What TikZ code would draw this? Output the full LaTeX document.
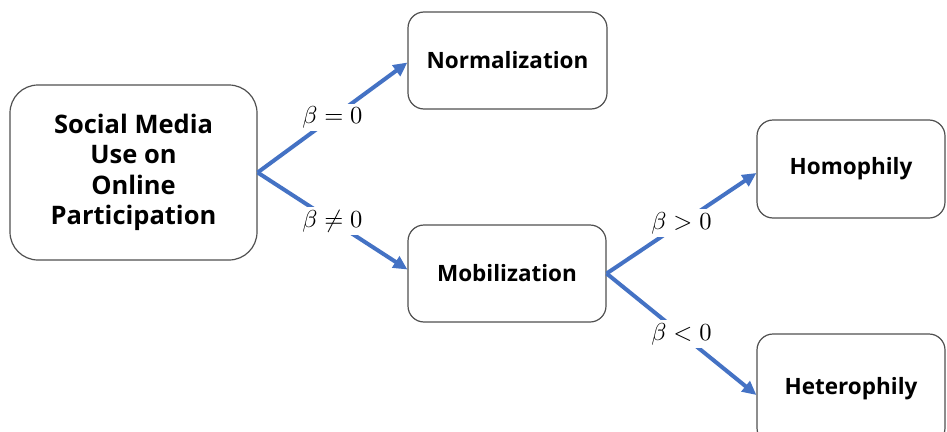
\documentclass[tikz,border=0pt]{standalone}
\usepackage{graphicx}
\usepackage{fontspec}
\setmainfont{Open Sans}
\usetikzlibrary{arrows.meta}
\definecolor{arrowblue}{HTML}{4472C4}
\definecolor{boxgray}{HTML}{505050}
\newcommand{\condtext}[1]{\scalebox{2.45}{$#1$}}
\tikzset{
  box/.style={draw=boxgray, line width=1.2pt, rounded corners=16pt, fill=white,
    font=\bfseries\fontsize{22.5}{30}\selectfont, align=center, inner sep=0pt},
  flow/.style={draw=arrowblue, line width=4pt, -{Triangle[length=14pt,width=13pt]}},
  cond/.style={fill=white, inner sep=3pt, font=\normalsize}
}
\begin{document}
\begin{tikzpicture}[x=1pt,y=-1pt]
  \useasboundingbox (0,0) rectangle (947,431);
  % boxes
  \node[box, rounded corners=28pt, font=\bfseries\fontsize{25.5}{30.5}\selectfont,
        minimum width=247pt, minimum height=175pt] (src) at (133.5,172.5)
    {Social Media\\Use on\\Online\\Participation};
  \node[box, minimum width=199pt, minimum height=97pt] (norm) at (507.5,60.5) {Normalization};
  \node[box, minimum width=198pt, minimum height=97pt] (mob) at (507,273.5) {Mobilization};
  \node[box, minimum width=188pt, minimum height=98pt] (homo) at (851,169) {Homophily};
  \node[box, minimum width=188pt, minimum height=110pt] (hetero) at (851,389) {Heterophily};
  % connectors from the source
  \draw[flow] (src.east) -- ([yshift=-2pt]norm.west) node[cond, pos=0.5] {\condtext{\beta = 0}};
  \draw[flow] (src.east) -- ([yshift=4pt]mob.west) node[cond, pos=0.5] {\condtext{\beta \neq 0}};
  % connectors from mobilization
  \draw[flow] (mob.east) -- ([yshift=-4pt]homo.west) node[cond, pos=0.5] {\condtext{\beta > 0}};
  \draw[flow] (mob.east) -- ([yshift=-6pt]hetero.west) node[cond, pos=0.5] {\condtext{\beta < 0}};
\end{tikzpicture}
\end{document}
